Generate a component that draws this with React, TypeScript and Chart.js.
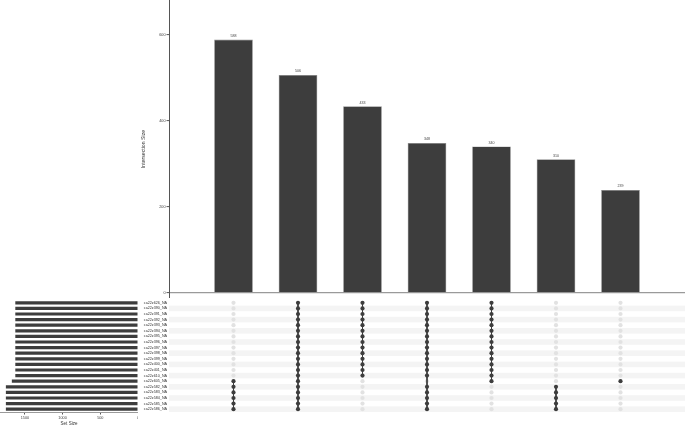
import React, { useEffect, useRef } from "react";
import { Chart, registerables } from "chart.js";

Chart.register(...registerables);
Chart.defaults.font.family = "'Liberation Sans', Arial, sans-serif";

const setNames = [
  "ca22z626_NA", "ca22z390_NA", "ca22z391_NA", "ca22z392_NA", "ca22z393_NA",
  "ca22z394_NA", "ca22z395_NA", "ca22z396_NA", "ca22z397_NA", "ca22z398_NA",
  "ca22z399_NA", "ca22z400_NA", "ca22z401_NA", "ca22z610_NA", "ca22z605_NA",
  "ca22z582_NA", "ca22z583_NA", "ca22z584_NA", "ca22z585_NA", "ca22z586_NA",
];
const setSizes = [
  1627, 1627, 1627, 1627, 1627, 1627, 1627, 1627, 1627, 1627,
  1627, 1627, 1627, 1627, 1673, 1752, 1752, 1752, 1752, 1752,
];
const intersectionSizes = [588, 506, 433, 348, 340, 310, 239];
const intersectionMembers = [
  [14, 15, 16, 17, 18, 19],
  [0, 1, 2, 3, 4, 5, 6, 7, 8, 9, 10, 11, 12, 13, 14, 15, 16, 17, 18, 19],
  [0, 1, 2, 3, 4, 5, 6, 7, 8, 9, 10, 11, 12, 13],
  [0, 1, 2, 3, 4, 5, 6, 7, 8, 9, 10, 11, 12, 13, 15, 16, 17, 18, 19],
  [0, 1, 2, 3, 4, 5, 6, 7, 8, 9, 10, 11, 12, 13, 14],
  [15, 16, 17, 18, 19],
  [14],
];
const intersectionTicks = [0, 200, 400, 600];
const setSizeTicks = [0, 500, 1000, 1500];

const DARK = "#3d3d3d";
const LIGHT_DOT = "#e2e2e2";
const STRIPE = "#f4f4f4";

const valueLabels = {
  id: "valueLabels",
  afterDatasetsDraw(chart: any) {
    const ctx = chart.ctx;
    const meta = chart.getDatasetMeta(0);
    ctx.save();
    ctx.font = "3.6px 'Liberation Sans', Arial, sans-serif";
    ctx.fillStyle = "#444";
    ctx.textAlign = "center";
    ctx.textBaseline = "bottom";
    meta.data.forEach((el: any, i: number) => {
      ctx.fillText(String(intersectionSizes[i]), el.x, el.y - 2);
    });
    ctx.restore();
  },
};

const stripes = {
  id: "stripes",
  beforeDatasetsDraw(chart: any) {
    const { ctx, chartArea, scales } = chart;
    const y = scales.y;
    const h = chartArea.height / setNames.length;
    ctx.save();
    ctx.fillStyle = STRIPE;
    setNames.forEach((_n, i) => {
      if (i % 2 === 1) {
        const cy = y.getPixelForValue(i);
        ctx.fillRect(chartArea.left, cy - h / 2, chartArea.right - chartArea.left, h);
      }
    });
    ctx.restore();
  },
};

const noPadV = (s: any) => {
  s.paddingTop = 0;
  s.paddingBottom = 0;
};

export default function App() {
  const topRef = useRef<HTMLCanvasElement>(null);
  const matRef = useRef<HTMLCanvasElement>(null);
  const sizeRef = useRef<HTMLCanvasElement>(null);

  useEffect(() => {
    const top = new Chart(topRef.current!, {
      type: "bar",
      data: {
        datasets: [
          {
            data: intersectionSizes.map((v, i) => ({ x: i + 1, y: v })),
            backgroundColor: DARK,
            borderColor: "#8a8a8a",
            borderWidth: 0.6,
            barPercentage: 0.6,
            categoryPercentage: 1,
          },
        ],
      },
      options: {
        animation: false,
        responsive: false,
        maintainAspectRatio: false,
        layout: { padding: 0, autoPadding: false },
        plugins: { legend: { display: false }, tooltip: { enabled: false } },
        scales: {
          x: { type: "linear", min: 0, max: 8, offset: false, display: false, ticks: { stepSize: 1 } },
          y: {
            min: -12,
            max: 680,
            afterBuildTicks: (s: any) => {
              s.ticks = intersectionTicks.map((v) => ({ value: v }));
            },
            afterFit: (s: any) => {
              s.width = 36;
              noPadV(s);
            },
            border: { display: true, color: "#555", width: 1 },
            grid: {
              drawOnChartArea: true,
              color: (c: any) => (c.tick && c.tick.value === 0 ? "#9a9a9a" : "rgba(0,0,0,0)"),
              lineWidth: 1.2,
              tickColor: "#555",
              tickWidth: 1,
              tickLength: 2.5,
            },
            ticks: { font: { size: 3.8 }, color: "#444", padding: 1 },
            title: {
              display: true,
              text: "Intersection Size",
              font: { size: 5.2 },
              color: "#333",
              padding: { top: 7, bottom: 0 },
            },
          },
        },
      },
      plugins: [valueLabels],
    } as any);

    const datasets: any[] = [];
    const filled: any[] = [];
    const empty: any[] = [];
    intersectionMembers.forEach((members, c) => {
      setNames.forEach((name, r) => {
        if (members.includes(r)) filled.push({ x: c + 1, y: name });
        else empty.push({ x: c + 1, y: name });
      });
    });
    datasets.push({
      data: filled,
      backgroundColor: DARK,
      borderColor: DARK,
      pointRadius: 2.1,
      borderWidth: 0,
    });
    intersectionMembers.forEach((members, c) => {
      if (members.length > 1) {
        const lo = Math.min(...members);
        const hi = Math.max(...members);
        datasets.push({
          data: [
            { x: c + 1, y: setNames[lo] },
            { x: c + 1, y: setNames[hi] },
          ],
          showLine: true,
          borderColor: DARK,
          borderWidth: 1,
          pointRadius: 0,
        });
      }
    });
    datasets.push({
      data: empty,
      backgroundColor: LIGHT_DOT,
      borderColor: LIGHT_DOT,
      pointRadius: 2.1,
      borderWidth: 0,
    });

    const mat = new Chart(matRef.current!, {
      type: "scatter",
      data: { datasets },
      options: {
        animation: false,
        responsive: false,
        maintainAspectRatio: false,
        layout: { padding: 0, autoPadding: false },
        plugins: { legend: { display: false }, tooltip: { enabled: false } },
        scales: {
          x: { type: "linear", min: 0, max: 8, display: false },
          y: {
            type: "category",
            labels: setNames,
            offset: true,
            grid: { display: false, drawTicks: false },
            border: { display: false },
            ticks: { font: { size: 3.7 }, color: "#333", padding: 2, autoSkip: false },
            afterFit: (s: any) => {
              s.width = 31;
              noPadV(s);
            },
          },
        },
      },
      plugins: [stripes],
    } as any);

    const size = new Chart(sizeRef.current!, {
      type: "bar",
      data: {
        labels: setNames,
        datasets: [
          {
            data: setSizes,
            backgroundColor: DARK,
            barPercentage: 0.58,
            categoryPercentage: 1,
          },
        ],
      },
      options: {
        animation: false,
        responsive: false,
        maintainAspectRatio: false,
        indexAxis: "y",
        layout: { padding: 0, autoPadding: false },
        plugins: { legend: { display: false }, tooltip: { enabled: false } },
        scales: {
          y: { display: false, offset: true },
          x: {
            reverse: true,
            min: 0,
            max: 1830,
            afterBuildTicks: (s: any) => {
              s.ticks = setSizeTicks.map((v) => ({ value: v }));
            },
            afterFit: (s: any) => {
              s.height = 14;
              s.paddingLeft = 0;
              s.paddingRight = 0;
            },
            grid: { drawOnChartArea: false, tickLength: 2.5, tickColor: "#555", tickWidth: 1 },
            border: { display: true, color: "#9a9a9a", width: 1 },
            ticks: {
              font: { size: 3.8 },
              color: "#444",
              padding: 1,
              maxRotation: 0,
              callback: (v: any) => String(v),
            },
            title: {
              display: true,
              text: "Set Size",
              font: { size: 4.5 },
              color: "#333",
              padding: { top: 1, bottom: 0 },
            },
          },
        },
      },
    } as any);

    return () => {
      top.destroy();
      mat.destroy();
      size.destroy();
    };
  }, []);

  return (
    <div
      style={{
        position: "absolute",
        left: 0,
        top: 0,
        width: 685,
        height: 426,
        background: "#fff",
        overflow: "hidden",
      }}
    >
      <canvas
        ref={topRef}
        width={552}
        height={298}
        style={{ position: "absolute", left: 133, top: 0, width: 552, height: 298 }}
      />
      <canvas
        ref={matRef}
        width={547}
        height={112}
        style={{ position: "absolute", left: 138, top: 300, width: 547, height: 112 }}
      />
      <canvas
        ref={sizeRef}
        width={138}
        height={126}
        style={{ position: "absolute", left: 0, top: 300, width: 138, height: 126 }}
      />
    </div>
  );
}
